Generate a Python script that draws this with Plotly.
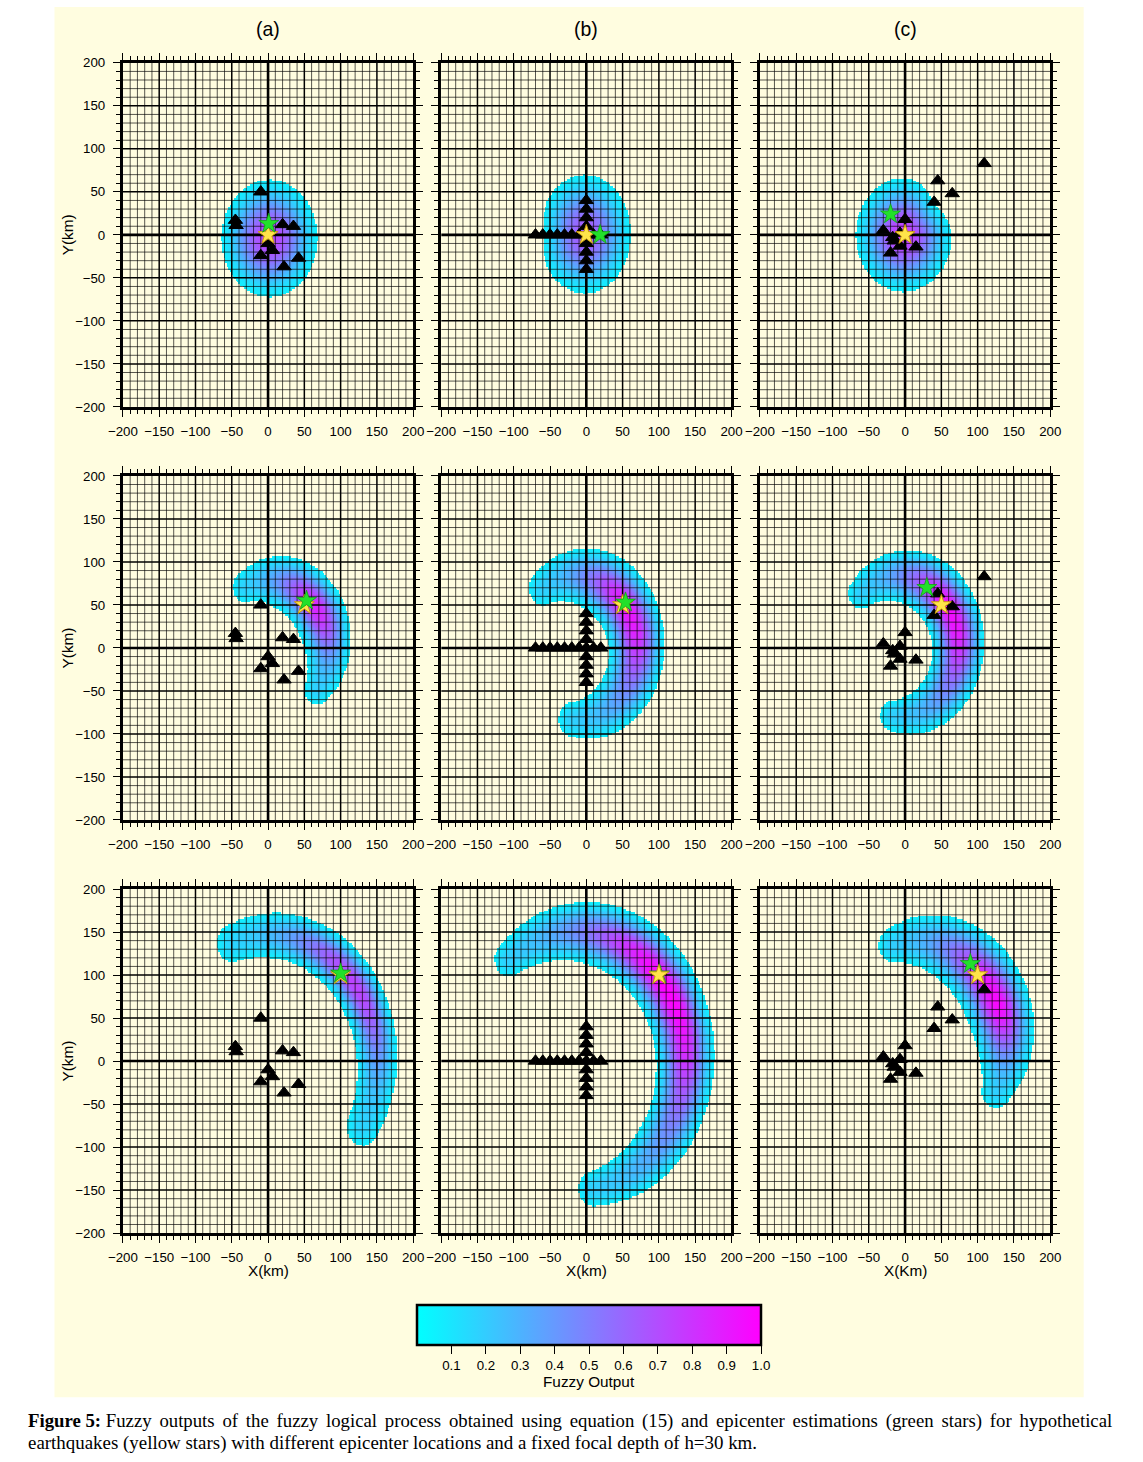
import numpy as np
import plotly.graph_objects as go

W, H = 1143, 1462
# the photographed page shows the figure slightly shrunk about its centre;
# these factors map the reference's pixel positions back to figure pixels
SX, OX = 0.978, 15.5
SY, OY = 0.9895, 7.2
FONT = "Liberation Sans, Arial, sans-serif"
SERIF = "Liberation Serif, Times New Roman, serif"
CREAM = "#FFFDE0"


def px(x):
    return (x - OX) / SX / W


def py(y):
    return 1 - (y - OY) / SY / H


# ---------------- data ----------------
COL_TITLES = ["(a)", "(b)", "(c)"]
X_TITLES = ["X(km)", "X(km)", "X(Km)"]
Y_TITLE = "Y(km)"
AXIS_TICKS = [-200, -150, -100, -50, 0, 50, 100, 150, 200]
CBAR_TICKS = [0.1, 0.2, 0.3, 0.4, 0.5, 0.6, 0.7, 0.8, 0.9, 1.0]
CBAR_LABELS = ["0.1", "0.2", "0.3", "0.4", "0.5", "0.6", "0.7", "0.8", "0.9", "1.0"]
CBAR_TITLE = "Fuzzy Output"
CAPTION_1 = ("Fuzzy outputs of the fuzzy logical process obtained using equation (15) "
             "and epicenter estimations (green stars) for hypothetical")
CAPTION_2 = ("earthquakes (yellow stars) with different epicenter locations and a fixed "
             "focal depth of h=30 km.")

# station networks (triangles), one per column
STA_A_X = [-10, -45, -44, 20, 35, 0, 6, -10, 22, 42]
STA_A_Y = [50, 17, 11, 12, 10, -10, -18, -24, -37, -27]
STA_B_X = [-70, -60, -50, -40, -30, -20, -10, 0, 10, 20, 0, 0, 0, 0, 0, 0, 0, 0]
STA_B_Y = [0, 0, 0, 0, 0, 0, 0, 0, 0, 0, 40, 30, 20, 10, -10, -20, -30, -40]
STA_C_X = [109, 45, 65, 40, 0, -30, -17, -7, -15, -20, -7, 15]
STA_C_Y = [83, 63, 48, 38, 18, 5, -3, 2, -7, -21, -13, -14]

# hypothetical epicentres (yellow stars), one per row
HYPO_X = [0, 50, 100]
HYPO_Y = [0, 50, 100]
# estimated epicentres (green stars), [row][col]
EST_X = [[1, 19, -20], [53, 54, 30], [100, 101, 90]]
EST_Y = [[13, 0, 24], [55, 53, 70], [102, 101, 113]]
GREEN_ON_TOP = [[True, True, False], [True, True, False], [True, False, False]]

# fuzzy-output shapes, row 1 (compact blobs)
BLOB_CX = [2, -2, -2]
BLOB_CY = [-4, 1, 0]
BLOB_AX = [66, 63, 66]
BLOB_AY = [68, 69, 66]
BLOB_NOTCH = [0.0, 0.10, 0.15]
BLOB_NOTCH_DIR = [0, 180, 40]
BLOB_PEAK = [0.72, 0.64, 0.76]

# fuzzy-output shapes, rows 2-3 (crescents): a(2), b(2), c(2), a(3), b(3), c(3)
ARC_CX = [2, -14, -8, 2, -14, 15]
ARC_CY = [-2, 0, 2, -2, 0, 17]
ARC_R = [80, 83, 81, 148, 150, 122]
ARC_HMID = [36, 40, 37, 30, 42, 45]
ARC_HEND = [18, 20, 18, 22, 20, 20]
ARC_T_CW = [-35, -93, -96, -30, -81, -25]
ARC_T_PEAK = [38, 32, 30, 38, 35, 25]
ARC_T_CCW = [114, 123, 130, 110, 128, 105]
ARC_PEAK = [0.85, 0.92, 0.95, 0.74, 1.0, 0.97]
ARC_END = [0.15, 0.15, 0.15, 0.14, 0.15, 0.15]

T0 = 0.06  # lowest drawn fuzzy value
GRID = np.arange(-200, 200.01, 2.0)
GX, GY = np.meshgrid(GRID, GRID)


def blob_field(i):
    dx, dy = GX - BLOB_CX[i], GY - BLOB_CY[i]
    th = np.arctan2(dy, dx)
    rb = 1.0 / np.sqrt((np.cos(th) / BLOB_AX[i]) ** 2 + (np.sin(th) / BLOB_AY[i]) ** 2)
    dn = (np.degrees(th) - BLOB_NOTCH_DIR[i] + 180.0) % 360.0 - 180.0
    rb = rb * (1 - BLOB_NOTCH[i] * np.exp(-(dn / 25.0) ** 2))
    rho = np.hypot(dx, dy) / rb
    pk = BLOB_PEAK[i]
    return pk * np.exp(-np.log(pk / T0) * rho ** 2.5)


def arc_field(i):
    cx, cy, R = ARC_CX[i], ARC_CY[i], ARC_R[i]
    tpk = ARC_T_PEAK[i]
    lo, hi = ARC_T_CW[i] - tpk, ARC_T_CCW[i] - tpk
    dx, dy = GX - cx, GY - cy
    r = np.hypot(dx, dy)
    delta = (np.degrees(np.arctan2(dy, dx)) - tpk + 180.0) % 360.0 - 180.0
    inside = (delta >= lo) & (delta <= hi)
    el, eh = np.radians(ARC_T_CW[i]), np.radians(ARC_T_CCW[i])
    d_lo = np.hypot(GX - (cx + R * np.cos(el)), GY - (cy + R * np.sin(el)))
    d_hi = np.hypot(GX - (cx + R * np.cos(eh)), GY - (cy + R * np.sin(eh)))
    use_hi = d_hi < d_lo
    dist = np.where(inside, np.abs(r - R), np.where(use_hi, d_hi, d_lo))
    dc = np.where(inside, delta, np.where(use_hi, hi, lo))
    u = np.where(dc >= 0, dc / hi, dc / lo)
    a = ARC_END[i] + (ARC_PEAK[i] - ARC_END[i]) * np.exp(-3.0 * u ** 2)
    h = ARC_HEND[i] + (ARC_HMID[i] - ARC_HEND[i]) * (1 - u ** 2)
    return a * np.exp(-np.log(a / T0) * (dist / h) ** 2.2)


def to_list(z):
    z = np.round(z, 3)
    out = z.astype(object)
    out[np.isnan(z) | (z < T0)] = None
    return out.tolist()


STATIONS = [(STA_A_X, STA_A_Y), (STA_B_X, STA_B_Y), (STA_C_X, STA_C_Y)]

# ---------------- layout geometry (page pixels of the reference) ----------------
COL_LEFT = [123.5, 442.0, 761.0]
COL_W = 290.5
ROW_TOP = [63.0, 476.0, 889.0]
ROW_H = 344.0
FS = 1.0 / SX  # text compensation

fig = go.Figure()
layout = dict(
    width=W, height=H, autosize=False,
    margin=dict(l=0, r=0, t=0, b=0),
    paper_bgcolor="white", plot_bgcolor=CREAM,
    showlegend=False,
    font=dict(family=FONT, size=13 * FS, color="black"),
)

grid_vals = np.arange(-190, 200, 10)
minor_vals = [v for v in grid_vals if v % 50 != 0]
major_vals = [v for v in grid_vals if v % 50 == 0 and v != 0]


def line_xy(vals, vertical):
    xs, ys = [], []
    for v in vals:
        if vertical:
            xs += [v, v, None]
            ys += [-200, 200, None]
        else:
            xs += [-200, 200, None]
            ys += [v, v, None]
    return xs, ys


colorscale = [[0.0, "#00FFFF"], [1.0, "#FF00FF"]]

k = 0
for row in range(3):
    for col in range(3):
        k += 1
        xa = "x" if k == 1 else f"x{k}"
        ya = "y" if k == 1 else f"y{k}"
        if row == 0:
            z = blob_field(col)
        else:
            z = arc_field((row - 1) * 3 + col)
        hm = dict(
            x=GRID, y=GRID, z=to_list(z), zmin=0, zmax=1,
            colorscale=colorscale, xaxis=xa, yaxis=ya, hoverinfo="skip",
            showscale=(k == 1),
        )
        if k == 1:
            hm["colorbar"] = dict(
                orientation="h", x=px(590), xanchor="center",
                y=py(1305), yanchor="top", len=px(762) - px(418), lenmode="fraction",
                thickness=40 / SY, thicknessmode="pixels", xpad=0, ypad=0,
                outlinewidth=2.5, outlinecolor="black",
                tickvals=CBAR_TICKS, ticktext=CBAR_LABELS,
                ticks="outside", ticklen=8, tickwidth=1.2, tickcolor="black",
                tickfont=dict(family=FONT, size=13 * FS, color="black"),
            )
        fig.add_trace(go.Heatmap(**hm))

        for vals, width, color in [(minor_vals, 1.0, "rgba(0,0,0,0.66)"),
                                   (major_vals, 1.5, "black"),
                                   ([0], 2.6, "black")]:
            vx, vy = line_xy(vals, True)
            hx, hy = line_xy(vals, False)
            fig.add_trace(go.Scatter(
                x=vx + hx, y=vy + hy, mode="lines", xaxis=xa, yaxis=ya,
                line=dict(color=color, width=width), hoverinfo="skip"))

        sx, sy = STATIONS[col]
        fig.add_trace(go.Scatter(
            x=sx, y=sy, mode="markers", xaxis=xa, yaxis=ya, hoverinfo="skip",
            marker=dict(symbol="triangle-up", size=12.5, color="black",
                        line=dict(color="black", width=1))))
        yellow = go.Scatter(
            x=[HYPO_X[row]], y=[HYPO_Y[row]], mode="markers", xaxis=xa, yaxis=ya,
            hoverinfo="skip",
            marker=dict(symbol="star", size=15, color="#FFE44A",
                        line=dict(color="#C89A10", width=1)))
        green = go.Scatter(
            x=[EST_X[row][col]], y=[EST_Y[row][col]], mode="markers", xaxis=xa,
            yaxis=ya, hoverinfo="skip",
            marker=dict(symbol="star", size=15, color="#22E02A",
                        line=dict(color="#12A018", width=0.8)))
        if GREEN_ON_TOP[row][col]:
            fig.add_trace(yellow)
            fig.add_trace(green)
        else:
            fig.add_trace(green)
            fig.add_trace(yellow)

        left = COL_LEFT[col]
        top = ROW_TOP[row]
        common = dict(
            range=[-200, 200], showgrid=False, zeroline=False,
            showline=True, linewidth=3, linecolor="black", mirror="ticks",
            ticks="outside", ticklen=7, tickwidth=1.3, tickcolor="black",
            tickvals=AXIS_TICKS,
            minor=dict(ticks="outside", ticklen=4, tickwidth=1, tickcolor="black",
                       dtick=10, tick0=0, showgrid=False),
            tickfont=dict(family=FONT, size=13 * FS, color="black"),
            fixedrange=True,
        )
        layout["xaxis" if k == 1 else f"xaxis{k}"] = dict(
            common, domain=[px(left), px(left + COL_W)],
            anchor=ya, ticklabelstandoff=3)
        layout["yaxis" if k == 1 else f"yaxis{k}"] = dict(
            common, domain=[py(top + ROW_H), py(top)],
            anchor=xa, showticklabels=(col == 0), ticklabelstandoff=5)

annotations = []
for col in range(3):
    cxp = px(COL_LEFT[col] + COL_W / 2)
    annotations.append(dict(
        text=COL_TITLES[col], x=cxp, y=py(29), xref="paper", yref="paper",
        xanchor="center", yanchor="middle", showarrow=False,
        font=dict(family=FONT, size=19 * FS, color="black")))
    annotations.append(dict(
        text=X_TITLES[col], x=cxp, y=py(1270), xref="paper", yref="paper",
        xanchor="center", yanchor="middle", showarrow=False,
        font=dict(family=FONT, size=15 * FS, color="black")))
for row in range(3):
    annotations.append(dict(
        text=Y_TITLE, x=px(68), y=py(ROW_TOP[row] + ROW_H / 2),
        xref="paper", yref="paper", xanchor="center", yanchor="middle",
        textangle=-90, showarrow=False,
        font=dict(family=FONT, size=15 * FS, color="black")))
annotations.append(dict(
    text=CBAR_TITLE, x=px(590), y=py(1381), xref="paper", yref="paper",
    xanchor="center", yanchor="middle", showarrow=False,
    font=dict(family=FONT, size=15 * FS, color="black")))
annotations.append(dict(
    text="<b>Figure 5:</b> " + CAPTION_1.replace(" ", " \u2006"),
    x=px(27), y=py(1421), xref="paper", yref="paper",
    xanchor="left", yanchor="middle", showarrow=False,
    font=dict(family=SERIF, size=18.35 * FS, color="black")))
annotations.append(dict(
    text=CAPTION_2,
    x=px(27), y=py(1443), xref="paper", yref="paper",
    xanchor="left", yanchor="middle", showarrow=False,
    font=dict(family=SERIF, size=18.5 * FS, color="black")))
layout["annotations"] = annotations
layout["shapes"] = [dict(
    type="rect", xref="paper", yref="paper", layer="below",
    x0=px(55), x1=px(1085), y0=py(1397), y1=1,
    fillcolor=CREAM, line=dict(width=0))]

fig.update_layout(**layout)
fig.write_html("out.html")
